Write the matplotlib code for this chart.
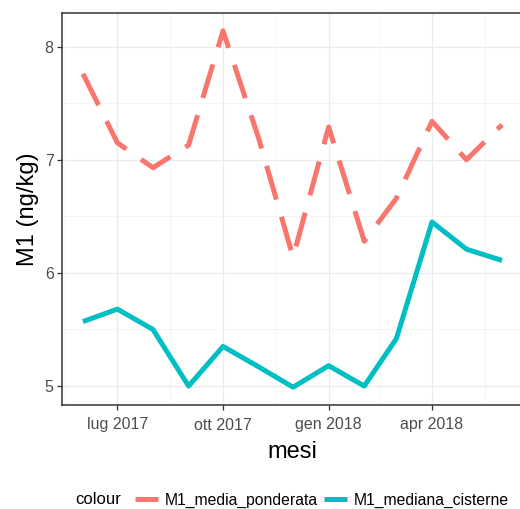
import datetime as dt
import matplotlib
matplotlib.use("Agg")
import matplotlib.pyplot as plt
import matplotlib.dates as mdates
from matplotlib.lines import Line2D

plt.rcParams['font.family'] = ['Liberation Sans', 'DejaVu Sans']

# dati mensili
mesi = ["2017-06-01", "2017-07-01", "2017-08-01", "2017-09-01", "2017-10-01",
        "2017-11-01", "2017-12-01", "2018-01-01", "2018-02-01", "2018-03-01",
        "2018-04-01", "2018-05-01", "2018-06-01"]
M1_media_ponderata = [7.76, 7.15, 6.93, 7.13, 8.14, 7.19, 6.14, 7.29, 6.28, 6.66, 7.34, 7.00, 7.31]
M1_mediana_cisterne = [5.57, 5.68, 5.50, 5.00, 5.35, 5.17, 4.99, 5.18, 5.00, 5.42, 6.45, 6.21, 6.11]

tick_mesi = ["2017-07-01", "2017-10-01", "2018-01-01", "2018-04-01"]
tick_labels = ["lug 2017", "ott 2017", "gen 2018", "apr 2018"]

red = "#F8766D"
cyan = "#00BFC4"

x = [mdates.date2num(dt.date.fromisoformat(m)) for m in mesi]
xt = [mdates.date2num(dt.date.fromisoformat(m)) for m in tick_mesi]

fig = plt.figure(figsize=(5.2, 5.09), dpi=100)
ax = fig.add_axes([62/520, 104/509, 461/520, 392/509])

lw = 3.6
ax.plot(x, M1_media_ponderata, color=red, lw=lw, dashes=(7, 3.6),
        dash_capstyle="butt", solid_joinstyle="round", zorder=3)
ax.plot(x, M1_mediana_cisterne, color=cyan, lw=lw, solid_capstyle="butt",
        solid_joinstyle="round", zorder=3)

# limiti con espansione del 5% come ggplot
xr = x[-1] - x[0]
ax.set_xlim(x[0] - 0.05 * xr, x[-1] + 0.05 * xr)
vals = M1_media_ponderata + M1_mediana_cisterne
yr = max(vals) - min(vals)
ax.set_ylim(min(vals) - 0.05 * yr, max(vals) + 0.05 * yr)

step = xt[1] - xt[0]
minors = [xt[0] - step / 2] + [(a + b) / 2 for a, b in zip(xt[:-1], xt[1:])] + [xt[-1] + step / 2]
ax.set_xticks(xt)
ax.set_xticklabels(tick_labels)
ax.set_xticks(minors, minor=True)
ax.set_yticks([5, 6, 7, 8])
ax.set_yticks([5.5, 6.5, 7.5], minor=True)

ax.grid(which="major", color="#EBEBEB", lw=0.9)
ax.grid(which="minor", color="#F2F2F2", lw=0.5)
ax.set_axisbelow(True)

for s in ax.spines.values():
    s.set_color("#333333")
    s.set_linewidth(1.1)
ax.spines["right"].set_visible(False)  # bordo destro tagliato nell'immagine
ax.tick_params(which="major", length=3.5, width=0.9, color="#333333",
               labelsize=11.5, labelcolor="#4D4D4D", pad=2.5)
ax.tick_params(axis="x", which="major", pad=5.5)
ax.tick_params(which="minor", length=0)

ax.set_xlabel("mesi", fontsize=17, labelpad=6)
ax.set_ylabel("M1 (ng/kg)", fontsize=17, labelpad=4)

fig.text(75/520, 9/509, "colour", fontsize=12, va="center", ha="left")
handles = [Line2D([], [], color=red, lw=lw, solid_capstyle="butt"),
           Line2D([], [], color=cyan, lw=lw, solid_capstyle="butt")]
fig.legend(handles, ["M1_media_ponderata", "M1_mediana_cisterne"],
           loc="center left", bbox_to_anchor=(135/520, 8.5/509), ncol=2,
           frameon=False, fontsize=11.3, handlelength=1.45, handletextpad=0.45,
           columnspacing=0.4, borderaxespad=0, borderpad=0)

fig.savefig("out.png", dpi=100)
